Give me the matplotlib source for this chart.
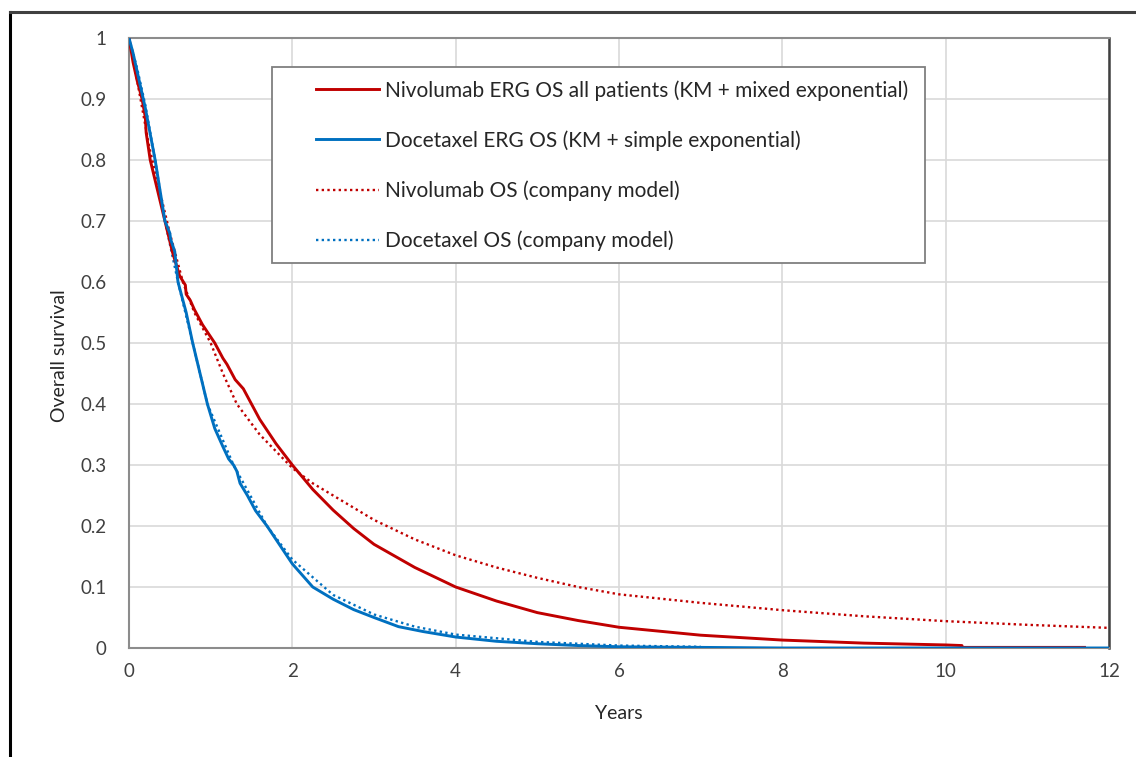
import numpy as np
import matplotlib.pyplot as plt
from matplotlib.lines import Line2D
from matplotlib.patches import Rectangle

plt.rcParams['font.family'] = ['Lato', 'DejaVu Sans']

# Nivolumab ERG OS all patients (KM + mixed exponential)
niv_t = [0, 0.05, 0.1, 0.16, 0.2, 0.21, 0.26, 0.35, 0.44, 0.53, 0.62, 0.69, 0.7, 0.75, 0.8, 0.9,
         1.0, 1.05, 1.15, 1.2, 1.3, 1.4, 1.5, 1.6, 1.8, 2.0, 2.25, 2.5, 2.75, 3.0, 3.5,
         4.0, 4.5, 5.0, 5.5, 6.0, 7.0, 8.0, 9.0, 10.0, 10.2, 10.2, 11.7]
niv_s = [1.0, 0.96, 0.93, 0.9, 0.87, 0.845, 0.8, 0.75, 0.7, 0.65, 0.61, 0.595, 0.58, 0.57, 0.555, 0.53,
         0.51, 0.5, 0.475, 0.465, 0.44, 0.425, 0.40, 0.375, 0.335, 0.3, 0.26, 0.226, 0.196, 0.17, 0.132,
         0.1, 0.077, 0.058, 0.045, 0.034, 0.021, 0.013, 0.008, 0.005, 0.004, 0.001, 0.001]

# Docetaxel ERG OS (KM + simple exponential)
doc_t = [0, 0.05, 0.1, 0.2, 0.32, 0.44, 0.5, 0.51, 0.56, 0.6, 0.7, 0.78, 0.87, 0.96, 1.05, 1.15,
         1.22, 1.28, 1.32, 1.36, 1.45, 1.55, 1.69, 1.8, 2.0, 2.25, 2.5, 2.75, 3.0, 3.3,
         3.6, 4.0, 4.5, 5.0, 5.5, 6.0, 7.0, 8.0, 12.0]
doc_s = [1.0, 0.975, 0.945, 0.885, 0.8, 0.7, 0.68, 0.67, 0.65, 0.6, 0.55, 0.5, 0.45, 0.4, 0.36, 0.33,
         0.31, 0.3, 0.29, 0.27, 0.25, 0.225, 0.2, 0.178, 0.138, 0.1, 0.08, 0.063, 0.05, 0.035,
         0.027, 0.018, 0.011, 0.007, 0.004, 0.002, 0.001, 0.0, 0.0]

# Nivolumab OS (company model)
nivc_t = [0, 0.1, 0.25, 0.5, 0.66, 0.8, 1.0, 1.15, 1.32, 1.6, 2.0, 2.25, 2.5, 3.0, 3.5, 4.0,
          4.5, 5.0, 5.5, 6.0, 7.0, 8.0, 9.0, 10.0, 11.0, 12.0]
nivc_s = [1.0, 0.93, 0.82, 0.68, 0.6, 0.55, 0.5, 0.45, 0.4, 0.35, 0.295, 0.27, 0.25, 0.21, 0.178, 0.152,
          0.132, 0.115, 0.1, 0.088, 0.074, 0.062, 0.052, 0.044, 0.038, 0.033]

# Docetaxel OS (company model)
docc_t = [0, 0.1, 0.2, 0.32, 0.44, 0.6, 0.78, 0.96, 1.28, 1.69, 2.0, 2.5, 3.0, 3.5, 4.0, 5.0, 6.0, 7.0]
docc_s = [1.0, 0.95, 0.89, 0.8, 0.7, 0.6, 0.5, 0.4, 0.3, 0.2, 0.145, 0.087, 0.055, 0.035, 0.022, 0.01, 0.004, 0.002]

labels = ['Nivolumab ERG OS all patients (KM + mixed exponential)',
          'Docetaxel ERG OS (KM + simple exponential)',
          'Nivolumab OS (company model)',
          'Docetaxel OS (company model)']

red = '#C00000'
blue = '#0070C0'

fig = plt.figure(figsize=(11.36, 7.57), dpi=100)
ax = fig.add_axes([129/1136, 1-648/757, 980/1136, 610/757])

ax.plot(nivc_t, nivc_s, color=red, lw=1.7, ls=(0, (1, 1.4)), label=labels[2], zorder=3)
ax.plot(docc_t, docc_s, color=blue, lw=1.7, ls=(0, (1, 1.4)), label=labels[3], zorder=3)
ax.plot(niv_t, niv_s, color=red, lw=2.1, label=labels[0], zorder=4)
ax.plot(doc_t, doc_s, color=blue, lw=2.1, label=labels[1], zorder=4)

ax.set_xlim(0, 12)
ax.set_ylim(0, 1)
ax.set_xticks(np.arange(0, 13, 2))
ax.set_yticks(np.arange(0, 1.01, 0.1))
ax.set_yticklabels(['0', '0.1', '0.2', '0.3', '0.4', '0.5', '0.6', '0.7', '0.8', '0.9', '1'])
ax.tick_params(length=0, labelsize=13.5, labelcolor='#404040')
ax.tick_params(axis='y', pad=16)
ax.tick_params(axis='x', pad=11)
ax.grid(True, color='#d9d9d9', lw=1.2)
ax.set_axisbelow(True)
for s in ['left', 'bottom', 'top']:
    ax.spines[s].set_color('#8c8c8c')
    ax.spines[s].set_linewidth(1.5)
ax.spines['right'].set_color('#404040')
ax.spines['right'].set_linewidth(1.8)

ax.set_xlabel('Years', fontsize=14, color='#262626')
ax.set_ylabel('Overall survival', fontsize=14, color='#262626')
ax.xaxis.set_label_coords(0.5, -0.093)
ax.yaxis.set_label_coords(-0.062, 0.48)

# legend box drawn separately so the inner padding matches
ax.add_patch(Rectangle(((272-129)/980, (648-263)/610), (925-272)/980, (263-67)/610,
                       transform=ax.transAxes, facecolor='white', edgecolor='#7f7f7f',
                       lw=1.3, zorder=5))

h, l = ax.get_legend_handles_labels()
order = [2, 3, 0, 1]
leg = ax.legend([h[i] for i in order], [l[i] for i in order],
                loc='upper left', bbox_to_anchor=((316-129)/980, (648-80)/610),
                fontsize=15, frameon=False, handlelength=3.0,
                handletextpad=0.3, labelspacing=1.42, borderpad=0, borderaxespad=0)
leg.set_zorder(6)
for t in leg.get_texts():
    t.set_color('#262626')

# outer frame (left and top edges)
fig.add_artist(Line2D([10/1136, 10/1136], [0, 1-12/757], color='black', lw=2.2))
fig.add_artist(Line2D([10/1136, 1], [1-12/757, 1-12/757], color='#404040', lw=2.2))

fig.savefig('out.png', dpi=100)
